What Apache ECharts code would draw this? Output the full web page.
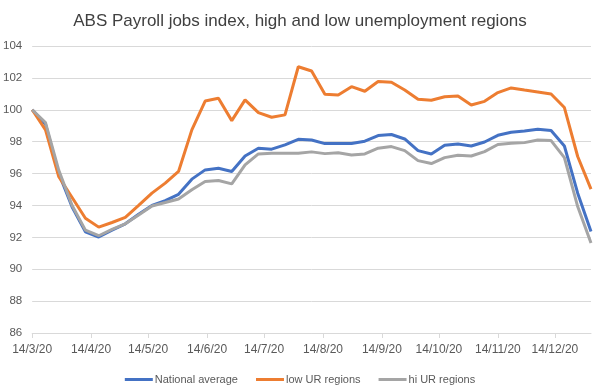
<!DOCTYPE html>
<html><head><meta charset="utf-8">
<script src="https://cdn.jsdelivr.net/npm/echarts@6/dist/echarts.min.js"></script>
<style>html,body{margin:0;padding:0;background:#fff}#c{width:600px;height:387px}</style>
</head><body><div id="c"></div>
<script>
const dates = ['2020-03-14','2020-03-21','2020-03-28','2020-04-04','2020-04-11','2020-04-18','2020-04-25',
'2020-05-02','2020-05-09','2020-05-16','2020-05-23','2020-05-30','2020-06-06','2020-06-13','2020-06-20',
'2020-06-27','2020-07-04','2020-07-11','2020-07-18','2020-07-25','2020-08-01','2020-08-08','2020-08-15',
'2020-08-22','2020-08-29','2020-09-05','2020-09-12','2020-09-19','2020-09-26','2020-10-03','2020-10-10',
'2020-10-17','2020-10-24','2020-10-31','2020-11-07','2020-11-14','2020-11-21','2020-11-28','2020-12-05',
'2020-12-12','2020-12-19','2020-12-26','2021-01-02'];
const national = [100,99.1,96.0,93.9,92.35,92.02,92.45,92.85,93.45,94.0,94.3,94.7,95.65,96.23,96.33,96.13,97.1,97.59,97.53,97.8,98.15,98.1,97.88,97.88,97.88,98.03,98.38,98.45,98.17,97.44,97.23,97.78,97.86,97.73,97.98,98.4,98.59,98.67,98.78,98.7,97.73,94.77,92.37];
const lowUR = [100,98.74,95.8,94.5,93.2,92.64,92.93,93.25,94.0,94.77,95.4,96.13,98.74,100.55,100.72,99.32,100.62,99.82,99.53,99.68,102.7,102.43,100.97,100.93,101.45,101.16,101.77,101.73,101.24,100.66,100.6,100.82,100.87,100.3,100.53,101.08,101.37,101.24,101.12,100.99,100.14,97.07,95.02];
const hiUR = [100,99.2,96.2,94.0,92.45,92.1,92.5,92.85,93.4,93.97,94.18,94.4,94.98,95.5,95.56,95.35,96.54,97.23,97.27,97.27,97.27,97.36,97.25,97.3,97.17,97.23,97.59,97.69,97.44,96.81,96.63,97.0,97.15,97.1,97.38,97.82,97.9,97.94,98.1,98.07,97.0,93.93,91.64];
const tickDates = ['2020-03-14','2020-04-14','2020-05-14','2020-06-14','2020-07-14','2020-08-14','2020-09-14','2020-10-14','2020-11-14','2020-12-14'];

const ts = s => { const p = s.split('-').map(Number); return Date.UTC(p[0], p[1]-1, p[2]); };
const fmt = v => { const d = new Date(v); return d.getUTCDate() + '/' + (d.getUTCMonth()+1) + '/' + String(d.getUTCFullYear()).slice(2); };
const pair = arr => dates.map((d,i) => [ts(d), arr[i]]);
const tickVals = tickDates.map(ts);
const FONT = '"Liberation Sans", Arial, sans-serif';

const chart = echarts.init(document.getElementById('c'), null, {renderer:'canvas'});
chart.setOption({
  animation:false,
  title:{text:'ABS Payroll jobs index, high and low unemployment regions', left:'center', top:8,
    textStyle:{fontFamily:FONT, fontSize:17, fontWeight:'normal', color:'#404040'}},
  grid:{left:32, right:9, top:46, bottom:54, containLabel:false},
  legend:{top:369, left:'center', itemWidth:28, itemHeight:3, itemGap:18, icon:'rect',
    textStyle:{fontFamily:FONT, fontSize:11, color:'#595959', padding:[0,0,0,-3]},
    data:['National average','low UR regions','hi UR regions']},
  xAxis:{type:'value', min:ts(dates[0]), max:ts(dates[dates.length-1]),
    axisLine:{show:true, lineStyle:{color:'#d9d9d9'}},
    axisTick:{show:true, customValues:tickVals, length:5, lineStyle:{color:'#d9d9d9'}},
    axisLabel:{customValues:tickVals, formatter:fmt, fontFamily:FONT, fontSize:12, color:'#595959', margin:11},
    splitLine:{show:false}},
  yAxis:{type:'value', min:86, max:104, interval:2,
    axisLine:{show:false}, axisTick:{show:false},
    axisLabel:{fontFamily:FONT, fontSize:11.5, color:'#595959', margin:10},
    splitLine:{lineStyle:{color:'#d9d9d9', width:1}}},
  series:[
    {name:'National average', type:'line', data:pair(national), showSymbol:false, symbol:'none', color:'#4472C4', lineStyle:{width:3}},
    {name:'low UR regions', type:'line', data:pair(lowUR), showSymbol:false, symbol:'none', color:'#ED7D31', lineStyle:{width:3}},
    {name:'hi UR regions', type:'line', data:pair(hiUR), showSymbol:false, symbol:'none', color:'#A5A5A5', lineStyle:{width:3}}
  ]
});
</script></body></html>
